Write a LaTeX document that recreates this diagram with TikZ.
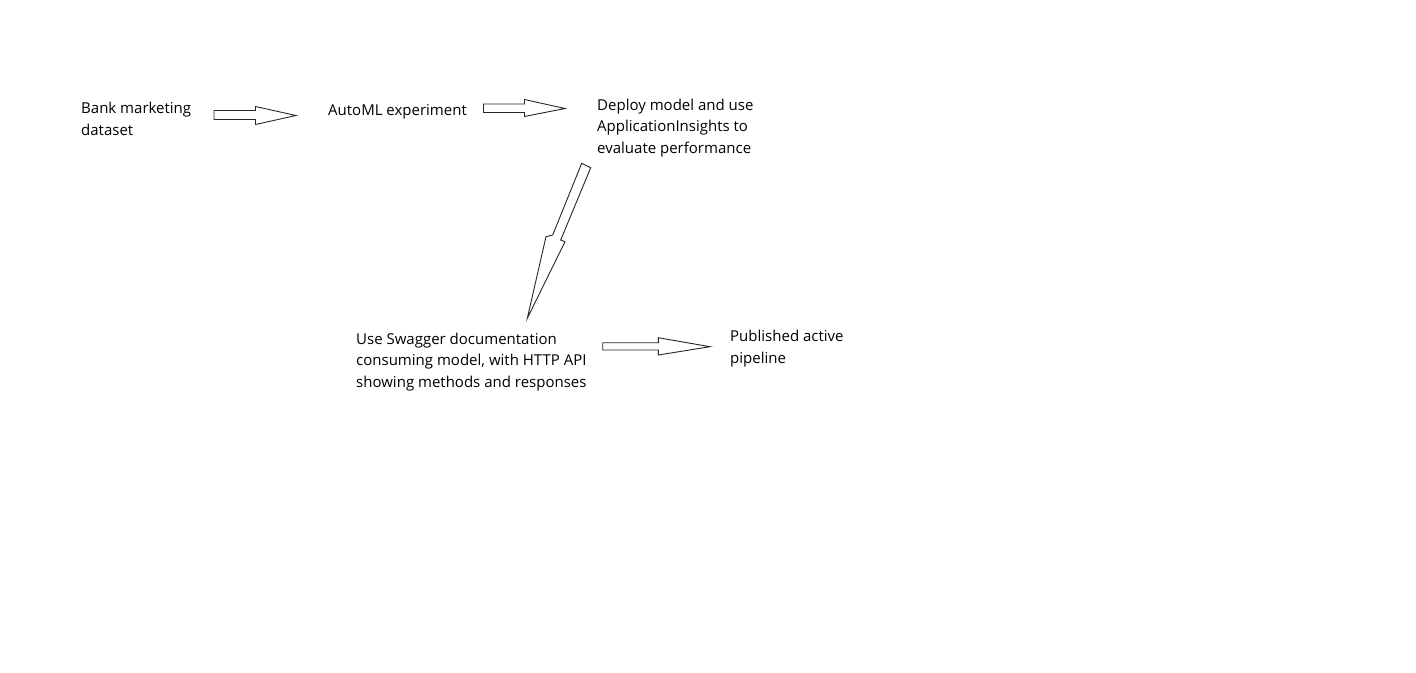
\documentclass[tikz,border=0pt]{standalone}
\usepackage{fontspec}
\setmainfont{Open Sans}
\begin{document}
\begin{tikzpicture}[x=1pt,y=-1pt,
  lbl/.style={anchor=base west,inner sep=0pt,align=left,font=\fontsize{15}{21.5}\selectfont},
  blockarrow/.style={draw=black!85,line width=0.9pt,fill=white,line join=miter}]
\useasboundingbox[fill=white] (0,0) rectangle (1416,672);
\node[lbl] (bank) at (81,135) {Bank marketing\\dataset};
\node[lbl] (automl) at (328,115) {AutoML experiment};
\node[lbl] (deploy) at (597,153) {Deploy model and use\\ApplicationInsights to\\evaluate performance};
\node[lbl] (swagger) at (356,387) {Use Swagger documentation\\consuming model, with HTTP API\\showing methods and responses};
\node[lbl] (pub) at (730,363) {Published active\\pipeline};
% arrow 1
\draw[blockarrow] (214,110.5) -- (255.5,110.5) -- (255.5,106.5) -- (296,115.5) -- (255.5,124.5) -- (255.5,119.5) -- (214,119.5) -- cycle;
% arrow 2
\draw[blockarrow] (483.5,104) -- (524.5,104) -- (524.5,99.5) -- (565,108.5) -- (524.5,116.5) -- (524.5,112.5) -- (483.5,112.5) -- cycle;
% diagonal arrow
\draw[blockarrow] (581.7,163.3) -- (590.7,167.7) -- (560.7,240) -- (565,241.7) -- (527.3,318.3) -- (546,236.7) -- (552.7,235) -- cycle;
% arrow 4
\draw[blockarrow] (602.7,342.7) -- (658.3,342.7) -- (658.3,337.7) -- (710,346.7) -- (658.3,355) -- (658.3,350) -- (602.7,350) -- cycle;
\end{tikzpicture}
\end{document}
